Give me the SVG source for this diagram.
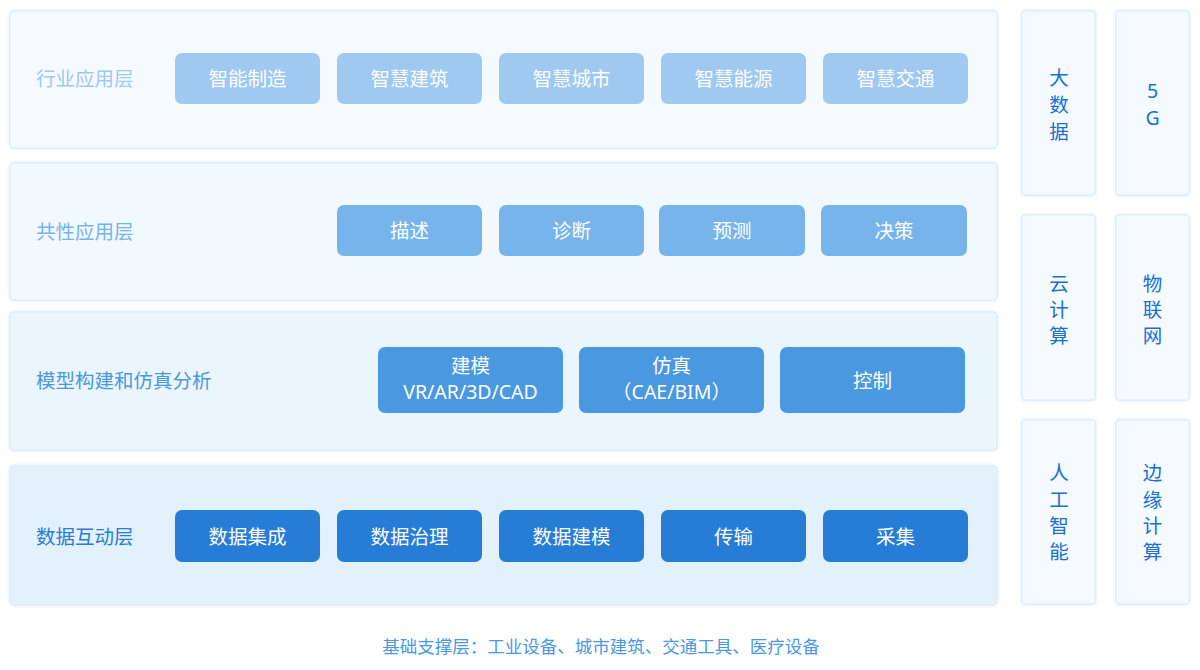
<svg xmlns="http://www.w3.org/2000/svg" width="1200" height="670" viewBox="0 0 1200 670">
<defs>
<filter id="glow" x="-5%" y="-10%" width="110%" height="120%">
<feGaussianBlur in="SourceAlpha" stdDeviation="1.5" result="b"/>
<feFlood flood-color="#bcdcf7" flood-opacity="0.9"/>
<feComposite in2="b" operator="in" result="s"/>
<feMerge><feMergeNode in="s"/><feMergeNode in="SourceGraphic"/></feMerge>
</filter>
</defs>
<style>
text{font-family:"Noto Sans","Noto Sans CJK SC",sans-serif;font-size:19.5px;}
.panel{stroke:#dcecfb;stroke-width:1;filter:url(#glow);}
.lbl{text-anchor:start;}
.bt{fill:#ffffff;text-anchor:middle;}
.side{fill:#f5fafe;stroke:#dcecfb;stroke-width:1;filter:url(#glow);}
.st{fill:#1a6fcf;text-anchor:middle;}
</style>
<rect width="1200" height="670" fill="#ffffff"/>
<g id="layer1">
<rect class="panel" x="10" y="11" width="987" height="137" rx="4" fill="#f5fafe"/>
<text class="lbl" x="36" y="86" fill="#9ec9f0">行业应用层</text>
<g fill="#9fc9f0">
<rect x="175" y="53" width="145" height="51" rx="7"/>
<rect x="337" y="53" width="145" height="51" rx="7"/>
<rect x="499" y="53" width="145" height="51" rx="7"/>
<rect x="661" y="53" width="145" height="51" rx="7"/>
<rect x="823" y="53" width="145" height="51" rx="7"/>
</g>
<text class="bt" x="247.5" y="86">智能制造</text>
<text class="bt" x="409.5" y="86">智慧建筑</text>
<text class="bt" x="571.5" y="86">智慧城市</text>
<text class="bt" x="733.5" y="86">智慧能源</text>
<text class="bt" x="895.5" y="86">智慧交通</text>
</g>
<g id="layer2">
<rect class="panel" x="10" y="163" width="987" height="137" rx="4" fill="#f1f8fe"/>
<text class="lbl" x="36" y="239" fill="#78b4ec">共性应用层</text>
<g fill="#78b4ec">
<rect x="337" y="205" width="145" height="51" rx="7"/>
<rect x="499" y="205" width="145" height="51" rx="7"/>
<rect x="659" y="205" width="146" height="51" rx="7"/>
<rect x="821" y="205" width="146" height="51" rx="7"/>
</g>
<text class="bt" x="409.5" y="238">描述</text>
<text class="bt" x="571.5" y="238">诊断</text>
<text class="bt" x="732" y="238">预测</text>
<text class="bt" x="894" y="238">决策</text>
</g>
<g id="layer3">
<rect class="panel" x="10" y="312" width="987" height="138" rx="4" fill="#ebf5fd"/>
<text class="lbl" x="36" y="388" fill="#4a98e0">模型构建和仿真分析</text>
<g fill="#4a98e0">
<rect x="378" y="347" width="185" height="66" rx="7"/>
<rect x="579" y="347" width="185" height="66" rx="7"/>
<rect x="780" y="347" width="185" height="66" rx="7"/>
</g>
<text class="bt" x="470.5" y="373">建模</text>
<text class="bt" x="470.5" y="399">VR/AR/3D/CAD</text>
<text class="bt" x="671.5" y="373">仿真</text>
<text class="bt" x="671.5" y="399">（CAE/BIM）</text>
<text class="bt" x="872.5" y="388">控制</text>
</g>
<g id="layer4">
<rect class="panel" x="10" y="466" width="987" height="139" rx="4" fill="#e3f1fd"/>
<text class="lbl" x="36" y="544" fill="#2a7dd4">数据互动层</text>
<g fill="#277dd5">
<rect x="175" y="510" width="145" height="52" rx="7"/>
<rect x="337" y="510" width="145" height="52" rx="7"/>
<rect x="499" y="510" width="145" height="52" rx="7"/>
<rect x="661" y="510" width="145" height="52" rx="7"/>
<rect x="823" y="510" width="145" height="52" rx="7"/>
</g>
<text class="bt" x="247.5" y="544">数据集成</text>
<text class="bt" x="409.5" y="544">数据治理</text>
<text class="bt" x="571.5" y="544">数据建模</text>
<text class="bt" x="733.5" y="544">传输</text>
<text class="bt" x="895.5" y="544">采集</text>
</g>
<g id="side-bigdata">
<rect class="side" x="1022" y="11" width="73" height="184" rx="3"/>
<text class="st" x="1059" y="85">大</text>
<text class="st" x="1059" y="112">数</text>
<text class="st" x="1059" y="139">据</text>
</g>
<g id="side-5g">
<rect class="side" x="1116" y="11" width="73" height="184" rx="3"/>
<text class="st" x="1152.5" y="98">5</text>
<text class="st" x="1152.5" y="125">G</text>
</g>
<g id="side-cloud">
<rect class="side" x="1022" y="215" width="73" height="185" rx="3"/>
<text class="st" x="1059" y="291">云</text>
<text class="st" x="1059" y="317">计</text>
<text class="st" x="1059" y="343">算</text>
</g>
<g id="side-iot">
<rect class="side" x="1116" y="215" width="73" height="185" rx="3"/>
<text class="st" x="1152.5" y="291">物</text>
<text class="st" x="1152.5" y="317">联</text>
<text class="st" x="1152.5" y="343">网</text>
</g>
<g id="side-ai">
<rect class="side" x="1022" y="420" width="73" height="184" rx="3"/>
<text class="st" x="1059" y="480">人</text>
<text class="st" x="1059" y="507">工</text>
<text class="st" x="1059" y="533">智</text>
<text class="st" x="1059" y="559">能</text>
</g>
<g id="side-edge">
<rect class="side" x="1116" y="420" width="73" height="184" rx="3"/>
<text class="st" x="1152.5" y="480">边</text>
<text class="st" x="1152.5" y="507">缘</text>
<text class="st" x="1152.5" y="533">计</text>
<text class="st" x="1152.5" y="559">算</text>
</g>
<g id="connectors"></g>
<text x="601" y="653" text-anchor="middle" fill="#4a98e0" style="font-size:17.5px">基础支撑层：工业设备、城市建筑、交通工具、医疗设备</text>
</svg>
